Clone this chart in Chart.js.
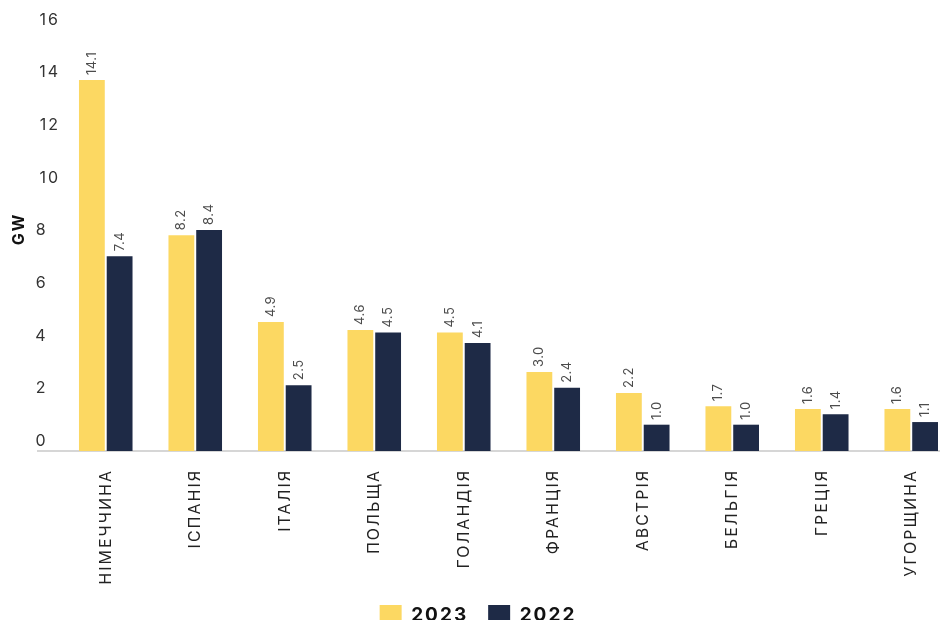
<!DOCTYPE html>
<html>
<head>
<meta charset="utf-8">
<script src="https://cdn.jsdelivr.net/npm/chart.js@4.4.1/dist/chart.umd.min.js"></script>
<style>
  html, body { margin: 0; padding: 0; background: #fff; overflow: hidden; }
  #wrap { width: 960px; height: 635px; }
</style>
</head>
<body>
<div id="wrap"><canvas id="chart"></canvas></div>
<script>
// дані з графіка
const countries = ['НІМЕЧЧИНА', 'ІСПАНІЯ', 'ІТАЛІЯ', 'ПОЛЬЩА', 'ГОЛАНДІЯ', 'ФРАНЦІЯ', 'АВСТРІЯ', 'БЕЛЬГІЯ', 'ГРЕЦІЯ', 'УГОРЩИНА'];
const values2023 = [14.1, 8.2, 4.9, 4.6, 4.5, 3.0, 2.2, 1.7, 1.6, 1.6];
const values2022 = [7.4, 8.4, 2.5, 4.5, 4.1, 2.4, 1.0, 1.0, 1.4, 1.1];
const yTicks = [0, 2, 4, 6, 8, 10, 12, 14, 16];

const font = 'Inter, "Noto Sans", sans-serif';

// ширший шрифт: легенда і вісь Y до стовпців, вісь X (z:1) після
const spacing = {
  id: 'spacing',
  beforeLayout(chart) { chart.ctx.letterSpacing = '2px'; },
  beforeDraw(chart) { chart.ctx.letterSpacing = '2px'; },
  beforeDatasetsDraw(chart) { chart.ctx.letterSpacing = '0px'; },
  afterDatasetsDraw(chart) { chart.ctx.letterSpacing = '3.4px'; },
  afterDraw(chart) { chart.ctx.letterSpacing = '0px'; }
};

// підписи значень над стовпцями (вертикально)
const valueLabels = {
  id: 'valueLabels',
  afterDatasetsDraw(chart) {
    const ctx = chart.ctx;
    ctx.save();
    ctx.letterSpacing = '0.5px';
    ctx.font = '13px ' + font;
    ctx.fillStyle = '#4c4c4c';
    ctx.textAlign = 'left';
    ctx.textBaseline = 'middle';
    chart.data.datasets.forEach((ds, i) => {
      chart.getDatasetMeta(i).data.forEach((bar, j) => {
        ctx.save();
        ctx.translate(bar.x, bar.y - 5);
        ctx.rotate(-Math.PI / 2);
        ctx.fillText(ds.data[j].toFixed(1), 0, 0);
        ctx.restore();
      });
    });
    ctx.restore();
  }
};

// сіра базова лінія
const baseLine = {
  id: 'baseLine',
  beforeDatasetsDraw(chart) {
    const ctx = chart.ctx;
    const y = chart.scales.y.getPixelForValue(0);
    ctx.save();
    ctx.strokeStyle = '#d6d6d6';
    ctx.lineWidth = 2;
    ctx.beginPath();
    ctx.moveTo(37, y);
    ctx.lineTo(chart.width, y);
    ctx.stroke();
    ctx.restore();
  }
};

new Chart(document.getElementById('chart'), {
  type: 'bar',
  data: {
    labels: countries,
    datasets: [
      { label: '2023', data: values2023, backgroundColor: '#fcd862', categoryPercentage: 0.62, barPercentage: 0.93 },
      { label: '2022', data: values2022, backgroundColor: '#1e2a46', categoryPercentage: 0.62, barPercentage: 0.93 }
    ]
  },
  options: {
    responsive: true,
    maintainAspectRatio: false,
    animation: false,
    layout: { padding: { top: 30, left: 0, right: 4, bottom: 0 } },
    plugins: {
      tooltip: { enabled: false },
      legend: {
        position: 'bottom',
        labels: {
          boxWidth: 22,
          boxHeight: 20,
          padding: 20,
          color: '#111',
          font: { family: font, size: 19, weight: 'bold', lineHeight: 1.2 }
        }
      }
    },
    scales: {
      x: {
        z: 1,
        afterFit: (scale) => { scale.height = 134; },
        grid: { display: false },
        border: { display: false },
        ticks: {
          minRotation: 90,
          maxRotation: 90,
          padding: 10,
          color: '#222',
          font: { family: font, size: 16 }
        }
      },
      y: {
        min: 0,
        max: 16,
        afterBuildTicks: (scale) => { scale.ticks = yTicks.map(v => ({ value: v })); },
        afterFit: (scale) => { scale.width = 61; },
        grid: { display: false, drawTicks: false },
        border: { display: false },
        title: {
          display: true,
          text: '    GW',
          color: '#111',
          padding: { top: 10, bottom: 0 },
          font: { family: font, size: 16, weight: 'bold' }
        },
        ticks: {
          crossAlign: 'near',
          padding: 1,
          labelOffset: -10,
          color: '#333',
          font: { family: font, size: 16 },
          callback: (v) => (v < 10 ? v + '\u2007' : '' + v)
        }
      }
    }
  },
  plugins: [spacing, baseLine, valueLabels]
});
</script>
</body>
</html>
